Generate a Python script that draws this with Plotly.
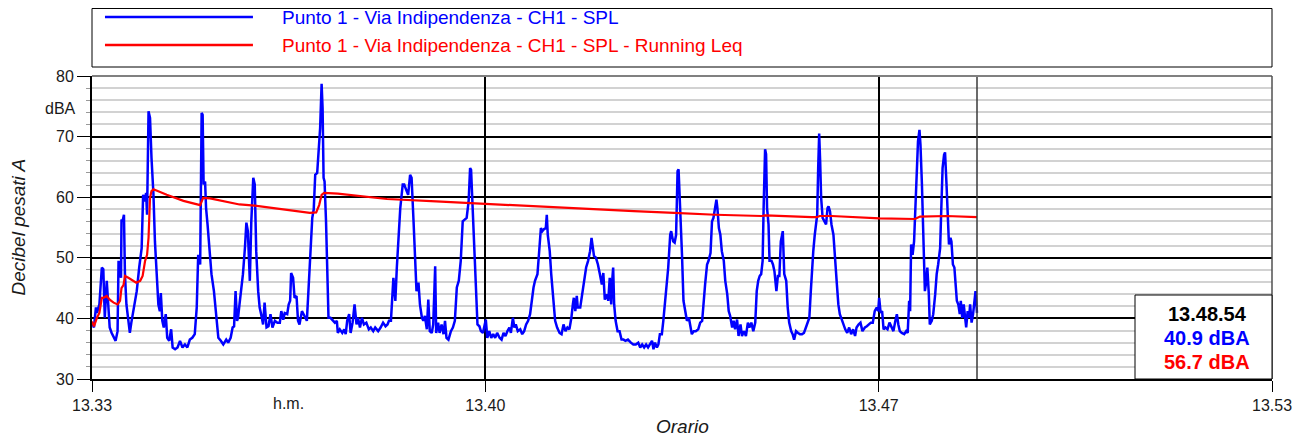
import plotly.graph_objects as go

# ---- data (seconds from 13:33:54, dBA) ----
spl_t = [0, 2, 4, 5, 7.5, 10, 11.5, 13, 15, 16.5, 18, 20, 22, 24, 26, 27, 28.5, 29.5, 30, 31, 32.5, 33.5, 35, 37, 38.5, 40,
         42.5, 45.5, 48, 50.5, 52, 54, 55, 56, 57.5, 59, 60.5, 62.5, 64, 66, 67.5, 69, 70, 71.5, 73, 75, 76.5, 78.5, 80.5, 82,
         84.5, 87, 89.5, 92, 94.5, 97, 99.5, 102, 104.5, 106.5, 108, 110, 111.5, 112.5, 113.5, 115, 116, 117.5, 119.5, 121.5,
         124, 126, 128.5, 131, 133.5, 136.5, 138.5, 141, 143, 144.5, 146, 147.5,
         148.5, 150, 152, 153.5, 155.5, 157, 158.5, 160.5, 162, 164, 165.5, 167, 169, 170.5, 172, 174, 175.5, 177.5, 179.5,
         181.5, 183.5, 186, 188.5, 191, 192.5, 194.5, 196, 198.5, 200, 201.5, 202.5, 204.5, 206, 208, 209.5, 211, 213.5, 215.5,
         217, 218.5, 220.5, 222, 224, 225.5, 227, 229, 230.5, 232, 233.5, 234.5, 235.5, 236.5, 238, 239.5, 240.5, 242.5, 244.5,
         247, 249, 250, 252, 254.5, 256.5, 258, 259.5, 261.5, 263, 265, 267, 269, 270.5, 272.5, 274.5, 276.5, 279, 281.5, 283.5,
         286, 288, 291, 293.5, 296, 298.5,
         300.5, 302, 304, 306.5, 308.5, 310, 312, 313.5, 316, 317.5, 320, 321.5, 323.5, 325, 327, 328.5, 330, 332, 333.5, 335.5,
         337, 338.5, 340.5, 342, 343.5, 345.5, 347, 349, 350, 352, 353.5, 355.5, 357.5, 359, 360.5, 362.5, 365, 367, 369, 371,
         373, 375, 377, 379, 381, 383, 384.5, 385.5, 387, 389, 390.5, 392, 394, 395.5, 397.5, 399, 400.5, 402, 404, 406, 408,
         410, 412, 414.5, 416.5, 418.5, 420.5, 422.5, 424.5, 426, 428, 429.5, 431, 433, 435.5, 437.5, 439.5, 441.5, 443.5, 445.5,
         447, 449, 450.5,
         453, 454.5, 456.5, 458, 459.5, 461.5, 462.5, 463.5, 465.5, 467, 469, 471, 473, 475.5, 477.5, 479.5, 481.5, 483.5, 485.5,
         487.5, 489, 490, 491.5, 493, 494, 496.5, 498.5, 500.5, 502.5, 504.5, 506.5, 508, 509, 510.5, 512.5, 514.5, 516.5, 518.5,
         520, 521.5, 523.5, 525, 526.5, 528, 529, 530, 531, 532.5, 534.5, 536.5, 538.5, 540.5, 542.5, 545, 548, 550.5, 553,
         555.5, 557.5, 559.5, 561.5, 563.5, 565.5, 567.5, 569.5, 571, 572.5, 574.5, 576, 577.5, 579.5, 581, 582.5, 584.5, 586,
         588, 589, 591, 592.5, 594, 595.5, 596.5, 597.5, 598.5, 600, 601.5,
         603.5, 605, 607, 608.5, 610, 612, 614, 616.5, 618.5, 620.5, 622, 623.5, 625.5, 627, 629, 630.5, 632, 634, 635, 636,
         637.5, 639, 640.5, 642.5, 644, 646, 647.5, 649, 651, 652.5, 654, 656, 657.5, 659.5, 661, 663, 665, 667, 668.5, 670.5,
         672.5, 674.5, 676, 677.5, 679, 680.5, 682, 683, 684.5, 685.5, 686.5, 688, 689, 691, 692.5, 694, 696, 697.5, 699, 700.5,
         702.5, 704, 706, 707.5, 709, 711, 712.5, 714, 716, 718, 720, 722, 724, 726, 728, 729.5, 731, 732, 733.5, 735, 736.5,
         737.5, 738.5, 739.5, 740.5, 741.5, 743, 745, 746.5, 748, 749,
         750.5, 752, 754, 755.5, 757.5, 759, 760.5, 762.5, 764, 766, 768, 770, 772, 774, 776, 777.5, 779.5, 781.5, 783.5, 786,
         788, 790, 792, 794, 796, 798, 799.5, 800.5, 802, 803.5, 805, 807, 809, 811, 813, 815, 817, 818.5, 820, 821.5, 823.5,
         826, 828, 829.5, 831, 832, 833, 834.5, 836, 837.5, 838.5, 840, 841.5, 842.5, 844, 845.5, 847, 848, 849.5, 851, 852,
         854, 855.5, 857.5, 859, 860.5, 862.5, 863.5, 865, 866.5, 867.5, 869, 870, 871.5, 873, 874, 875.5, 877, 878.5, 879.5,
         881, 882.5, 883.5, 885, 886.5, 888, 889, 890.5, 892, 893, 894.5, 896, 897.5, 898.5, 900]

spl_db = [39.3, 38.5, 41.8, 40.9, 42.3, 48.4, 48.1, 40.1, 46.2, 42.3, 38.5, 37.6, 36.8, 36.3, 37.9, 49.5, 47.8, 46.7, 56.3, 56.0,
          57.1, 47.3, 42.3, 39.6, 37.6, 39.3,
          41.8, 44.5, 48.4, 51.6, 60.4, 59.3, 60.7, 57.1, 74.2, 73.1, 66.5, 60.4, 52.7, 46.2, 42.3, 41.2, 44.2, 39.6, 38.5, 40.7,
          36.8, 36.3, 38.2, 35.2,
          34.9, 35.2, 36.3, 35.2, 35.7, 35.2, 36.5, 36.8, 37.4, 41.8, 50.5, 48.9, 73.9, 73.6, 62.1, 62.6, 58.2, 55.5, 51.6, 47.3,
          44.5, 40.7, 36.8, 36.3, 35.7, 36.5, 36.0, 36.8, 38.5, 38.7, 44.5, 39.6,
          40.1, 42.3, 45.0, 47.3, 51.6, 55.8, 54.4, 46.2, 56.0, 63.2, 62.1, 51.1, 44.5, 41.8, 40.7, 39.0, 42.6, 38.5, 38.7,
          40.7, 38.5, 39.6, 39.3, 39.3, 41.2, 39.8, 40.9, 40.7, 42.3, 42.9, 47.5, 46.7, 43.4, 43.7, 39.6, 39.0, 41.2, 40.7,
          40.1, 39.6, 46.2, 49.2, 56.6, 58.0, 63.7, 64.0, 67.0, 71.4, 78.7, 74.7, 63.2, 62.6, 56.0, 45.1, 40.1, 40.1, 39.8,
          39.3, 39.6, 37.6, 38.2, 37.6, 38.2, 37.4, 39.6, 40.7, 37.6, 39.3, 42.3, 39.0, 40.1, 38.5, 40.1, 39.0, 39.3, 38.2, 38.5,
          37.9, 38.5, 37.9, 38.5, 39.3, 38.7,
          39.0, 39.6, 39.6, 46.7, 42.9, 48.4, 54.4, 58.2, 62.1, 62.1, 61.0, 60.4, 63.7, 63.2, 56.0, 50.0, 44.5, 45.9, 42.3, 40.1,
          39.6, 40.4, 38.2, 43.1, 37.9, 37.6, 39.0, 48.6, 37.6, 39.3, 37.6, 39.0, 37.4, 39.6, 36.8, 36.5, 37.9, 38.5, 39.6, 45.1,
          46.2, 49.5, 56.0, 56.3, 56.6, 59.3, 64.8, 64.5, 58.2, 50.0, 44.5, 39.0, 38.7, 37.9, 37.6, 38.5, 39.8, 36.8, 37.9, 36.8, 37.4,
          36.8, 37.6, 36.8, 36.5, 37.6, 37.1, 37.9, 38.5, 37.6, 40.1, 38.5, 39.0, 37.9, 38.2, 37.4, 37.9, 39.0, 39.6, 40.7,
          42.9, 45.1, 46.2,
          47.3, 50.5, 54.9, 54.4, 54.7, 54.9, 57.1, 53.8, 51.1, 47.3, 43.4, 39.6, 38.5, 37.6, 37.4, 39.0, 37.9, 38.5, 38.2,
          40.1, 42.3, 43.4, 41.2, 43.7, 41.8, 41.8, 44.0, 46.7, 48.4, 49.5, 51.1, 53.3, 51.6, 50.3, 50.0, 48.9, 47.3, 45.6,
          47.5, 43.1, 44.0, 42.9, 46.7, 42.3, 46.2, 48.4, 42.3, 39.6, 37.9, 37.9, 36.5, 36.5, 36.3, 36.5, 36.0, 35.7, 35.7,
          36.0, 35.2, 35.7, 35.2, 35.7, 35.2, 35.7, 36.3, 34.9, 36.0, 35.2, 35.7, 37.4, 37.4, 39.6, 42.3, 45.1, 48.4,
          53.8, 54.4, 52.7, 52.5, 53.8, 64.3, 64.6, 61.0, 57.1, 50.5, 42.9,
          41.2, 39.6, 40.1, 38.5, 37.4, 37.9, 37.9, 38.2, 39.3, 39.6, 42.9, 45.6, 48.9, 49.5, 50.8, 56.0, 56.6, 58.2, 59.6, 58.2,
          54.9, 53.8, 51.1, 49.5, 46.2, 44.0, 41.2, 40.4, 38.5, 39.6, 38.2, 39.8, 37.1, 39.0, 37.1, 37.9, 37.1, 39.3, 38.5, 39.3,
          37.9, 39.3, 44.5, 46.2, 47.0, 47.3, 49.5, 58.2, 67.9, 67.1, 58.2, 55.5, 49.5, 49.5, 48.9, 47.8, 44.5, 47.0, 47.0, 52.7,
          54.4, 47.3, 46.2, 41.8, 39.3, 37.9, 37.4, 36.5, 37.9, 37.6, 37.4, 37.4, 37.6, 38.5, 39.6, 40.1, 44.5, 47.8, 51.1, 53.8, 55.5,
          57.1, 64.8, 70.5, 65.9, 59.9, 56.6, 55.8, 55.5, 58.2, 58.5,
          57.7, 55.5, 53.8, 49.5, 45.6, 42.3, 40.7, 39.8, 39.0, 38.2, 37.6, 38.5, 37.4, 38.2, 37.1, 38.5, 39.0, 39.3, 37.9, 38.5,
          38.7, 39.0, 39.3, 39.3, 41.2, 41.8, 41.2, 43.4, 40.9, 41.2, 38.2, 38.5, 38.2, 39.3, 38.5, 37.9, 39.6, 40.7, 39.0, 37.9, 37.6,
          37.4, 37.9, 37.6, 42.9, 41.2, 52.2, 50.5, 52.7, 59.3, 65.9, 69.2, 71.1, 68.7, 62.1, 53.8, 44.5, 45.6, 48.4, 44.0, 39.0,
          39.6, 40.7, 44.0, 47.3, 48.9, 51.6, 57.1, 64.8, 67.0, 67.4, 62.1, 58.2, 52.2, 53.3, 52.7, 48.9, 48.4, 45.1, 42.9,
          42.3, 40.7, 42.9, 40.1, 42.3, 39.6, 38.5, 41.2, 40.1, 42.3, 39.3, 40.7, 42.9, 44.5, 40.9]

leq_t = [0, 2, 5, 7.5, 10, 11.5, 15, 18, 22, 26, 28.5, 30, 32, 33.5, 37, 40, 45, 49, 51.5, 54, 56, 57.5, 59, 60.5, 62.5,
         76, 93, 110, 113, 120, 133.5, 150, 165.5, 182.5, 202.5, 221.5, 228, 231, 233.5, 236, 250, 284, 300, 350, 400,
         450, 500, 551, 592, 602, 634, 681, 685, 732, 737, 740, 752, 801, 837, 842, 866, 869, 900]
leq_db = [39.5, 38.7, 40.1, 40.9, 43.4, 43.4, 43.7, 43.1, 42.6, 42.3, 42.9, 45.0, 45.5, 47.0, 46.7, 46.4, 45.9, 46.2, 47.0,
          49.5, 50.5, 53.3, 59.9, 61.0, 61.3,
          60.4, 59.4, 58.7, 59.9, 59.8, 59.3, 58.8, 58.6, 58.2, 57.8, 57.4, 57.5, 58.7, 60.4, 60.7, 60.6, 60.0, 59.7, 59.3, 58.9,
          58.4, 58.0, 57.7, 57.4, 57.3, 57.1, 56.9, 57.0, 56.7, 56.7, 56.9, 56.9, 56.5, 56.4, 56.8, 56.8, 56.9, 56.7]

x_tickvals = [0, 400, 800, 1200]
x_ticktext = ["13.33", "13.40", "13.47", "13.53"]
series_names = ["Punto 1 - Via Indipendenza - CH1 - SPL",
                "Punto 1 - Via Indipendenza - CH1 - SPL - Running Leq"]
cursor_time = "13.48.54"
cursor_spl = "40.9 dBA"
cursor_leq = "56.7 dBA"

BLUE = "#0000ff"
RED = "#ff0000"
FONT = "Liberation Sans, Arial, sans-serif"
TXT = "#1a1a1a"

fig = go.Figure()
fig.add_trace(go.Scatter(x=spl_t, y=spl_db, mode="lines", name=series_names[0],
                         line=dict(color=BLUE, width=2.5), showlegend=False))
fig.add_trace(go.Scatter(x=leq_t, y=leq_db, mode="lines", name=series_names[1],
                         line=dict(color=RED, width=2.2), showlegend=False))

fig.update_layout(
    width=1295, height=431,
    margin=dict(l=84, r=31, t=68, b=60),
    paper_bgcolor="white", plot_bgcolor="white",
    font=dict(family=FONT, size=16, color=TXT),
    xaxis=dict(range=[0, 1200], tickvals=x_tickvals, ticktext=x_ticktext,
               showgrid=True, gridcolor="#000000", gridwidth=1.5,
               ticks="outside", ticklen=11, tickcolor="#000000", tickwidth=1,
               showline=True, linecolor="#000000", linewidth=2,
               zeroline=False, tickfont=dict(size=16, color=TXT)),
    yaxis=dict(range=[30, 80], dtick=10, tick0=30,
               showgrid=True, gridcolor="#000000", gridwidth=1.8,
               ticks="outside", ticklen=13, tickcolor="#000000", tickwidth=1,
               showline=True, linecolor="#000000", linewidth=2, zeroline=False,
               tickfont=dict(size=16, color=TXT),
               minor=dict(dtick=2, showgrid=True, gridcolor="#d2d2d2", gridwidth=1.5,
                          ticks="outside", ticklen=4, tickcolor="#999999")),
)

shapes = []
# data end vertical line
shapes.append(dict(type="line", xref="x", yref="paper", x0=900, x1=900, y0=0, y1=1,
                   line=dict(color="#3a3a3a", width=1.5), layer="above"))
# top and right border
shapes.append(dict(type="line", xref="paper", yref="paper", x0=0, x1=1, y0=1, y1=1,
                   line=dict(color="#808080", width=2)))
shapes.append(dict(type="line", xref="paper", yref="paper", x0=1, x1=1, y0=0, y1=1,
                   line=dict(color="#505050", width=1.5)))
# legend box
shapes.append(dict(type="rect", xref="paper", yref="paper", x0=0, x1=1, y0=1.0297, y1=1.2228,
                   line=dict(color="#000000", width=1), fillcolor="white"))
shapes.append(dict(type="line", xref="paper", yref="paper", x0=0.011, x1=0.1364, y0=1.1947, y1=1.1947,
                   line=dict(color=BLUE, width=2.5)))
shapes.append(dict(type="line", xref="paper", yref="paper", x0=0.011, x1=0.1364, y0=1.1023, y1=1.1023,
                   line=dict(color=RED, width=2.5)))
# cursor info box
shapes.append(dict(type="rect", xref="paper", yref="paper", x0=0.8839, x1=1.0, y0=0.0, y1=0.2772,
                   line=dict(color="#000000", width=1), fillcolor="white"))
fig.update_layout(shapes=shapes)

ann = []
ann.append(dict(xref="paper", yref="paper", x=0.1593, y=1.1947, text=series_names[0], showarrow=False,
                xanchor="left", yanchor="middle", font=dict(size=19, color=BLUE)))
ann.append(dict(xref="paper", yref="paper", x=0.1593, y=1.1023, text=series_names[1], showarrow=False,
                xanchor="left", yanchor="middle", font=dict(size=19, color=RED)))
ann.append(dict(xref="paper", yref="paper", x=0.945, y=0.2145, text="<b>%s</b>" % cursor_time, showarrow=False,
                xanchor="center", yanchor="middle", font=dict(size=20, color="#000000")))
ann.append(dict(xref="paper", yref="paper", x=0.945, y=0.1353, text="<b>%s</b>" % cursor_spl, showarrow=False,
                xanchor="center", yanchor="middle", font=dict(size=20, color=BLUE)))
ann.append(dict(xref="paper", yref="paper", x=0.945, y=0.0561, text="<b>%s</b>" % cursor_leq, showarrow=False,
                xanchor="center", yanchor="middle", font=dict(size=20, color=RED)))
ann.append(dict(xref="paper", yref="paper", x=0, y=0.894, text="dBA", showarrow=False,
                xanchor="right", yanchor="middle", xshift=-14, font=dict(size=16, color=TXT)))
ann.append(dict(xref="x", yref="paper", x=200, y=-0.0825, text="h.m.", showarrow=False,
                xanchor="center", yanchor="middle", font=dict(size=16, color=TXT)))
ann.append(dict(xref="paper", yref="paper", x=0.5008, y=-0.158, text="<i>Orario</i>", showarrow=False,
                xanchor="center", yanchor="middle", font=dict(size=19, color=TXT)))
ann.append(dict(xref="paper", yref="paper", x=-0.0627, y=0.5, text="<i>Decibel pesati A</i>", showarrow=False,
                textangle=-90, xanchor="center", yanchor="middle", font=dict(size=19, color=TXT)))
fig.update_layout(annotations=ann)

fig.write_html("out.html")
